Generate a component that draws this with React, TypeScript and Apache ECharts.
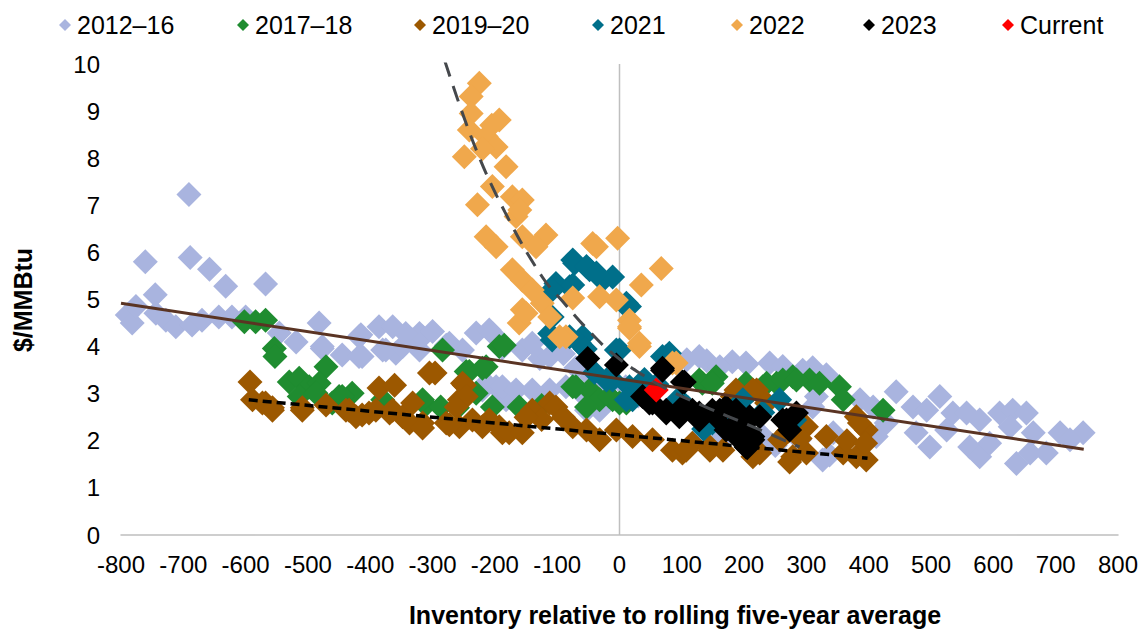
import React, { useEffect, useRef } from "react";
import * as echarts from "echarts";

const FONT = "'Liberation Sans', Arial, Helvetica, sans-serif";

// Series names and colours
const SERIES_NAMES = ["2012–16", "2017–18", "2019–20", "2021", "2022", "2023", "Current"];
const SERIES_COLORS = ["#A9B4DF", "#1F8C30", "#9C5800", "#006F8A", "#F0A84C", "#000000", "#FF0000"];

// Axis ranges
const X_MIN = -800;
const X_MAX = 800;
const X_STEP = 100;
const Y_MIN = 0;
const Y_MAX = 10;
const Y_STEP = 1;

// Observations: [inventory vs five-year average, price $/MMBtu]
const pts2012_16: [number, number][] = [
  [-691, 7.23], [-761, 5.8], [-689, 5.89], [-658, 5.64], [-632, 5.28], [-568, 5.33], [-745, 5.1],
  [-790, 4.67], [-782, 4.5], [-776, 4.85], [-744, 4.71], [-728, 4.56], [-712, 4.42], [-686, 4.46],
  [-670, 4.56], [-643, 4.63], [-622, 4.63], [-600, 4.63], [-546, 4.29], [-519, 4.1], [-482, 4.5],
  [-477, 3.96], [-445, 3.82], [-418, 4.21], [-413, 3.79], [-386, 4.42], [-364, 4.42], [-380, 3.93],
  [-359, 3.86], [-332, 4.14], [-316, 4.21], [-321, 3.93], [-477, 4.0], [-418, 3.79], [-415, 4.25],
  [-375, 3.93], [-348, 4.0], [-321, 4.28], [-300, 4.32], [-278, 4.03], [-252, 3.93], [-230, 4.29],
  [-209, 4.35], [-193, 4.0], [-220, 3.08], [-198, 3.15], [-182, 2.87], [-343, 4.28], [-273, 4.07],
  [-204, 4.28], [-188, 3.97], [-156, 3.93], [-128, 3.75], [-140, 4.07], [-112, 3.79], [-214, 3.22],
  [-188, 3.15], [-166, 3.08], [-140, 3.08], [-112, 3.08], [-86, 3.15], [-32, 2.65], [-53, 2.65],
  [-90, 3.85], [-70, 3.55], [-45, 3.35], [-25, 3.2], [-60, 3.0], [-20, 2.9], [10, 3.15], [30, 2.95],
  [108, 3.72], [140, 3.7], [181, 3.68], [204, 3.62], [241, 3.65], [262, 3.58], [310, 3.55],
  [128, 3.79], [161, 3.57], [203, 3.65], [294, 3.5], [332, 3.4], [386, 2.87], [407, 2.72],
  [444, 3.04], [471, 2.72], [493, 2.65], [514, 2.94], [535, 2.59], [557, 2.59], [578, 2.44],
  [610, 2.59], [631, 2.65], [653, 2.59], [627, 2.3], [664, 2.17], [707, 2.17], [744, 2.17],
  [723, 2.02], [498, 1.87], [562, 1.87], [578, 1.66], [637, 1.52], [659, 1.74], [685, 1.74],
  [594, 1.95], [525, 2.23], [476, 2.17], [428, 2.38], [412, 2.09], [343, 2.17], [326, 1.59],
  [310, 2.72], [316, 2.94], [130, 2.1], [160, 2.0], [230, 2.1], [289, 2.02], [337, 1.7], [250, 1.9],
];

const pts2017_18: [number, number][] = [
  [-602, 4.53], [-584, 4.53], [-568, 4.56], [-554, 3.96], [-553, 3.79], [-530, 3.25], [-514, 3.33],
  [-498, 3.15], [-471, 3.57], [-482, 3.22], [-514, 2.94], [-450, 2.94], [-429, 3.01], [-461, 2.8],
  [-487, 3.01], [-445, 2.94], [-380, 2.87], [-311, 2.76], [-287, 2.72], [-284, 3.93], [-246, 3.47],
  [-214, 3.57], [-204, 2.72], [-193, 4.0], [-230, 3.01], [-241, 3.47], [-220, 3.54], [-185, 4.03],
  [-161, 2.72], [-125, 2.75], [-260, 2.7], [-316, 2.87], [-70, 3.15], [-48, 3.08], [-32, 2.87],
  [-11, 2.87], [-53, 2.72], [11, 2.8], [-75, 3.15], [-16, 2.94], [0, 2.8], [133, 3.22], [155, 3.36],
  [128, 3.29], [149, 3.22], [203, 3.22], [230, 3.15], [252, 3.22], [278, 3.36], [305, 3.29],
  [236, 3.22], [262, 3.29], [284, 3.29], [321, 3.22], [353, 3.15], [359, 2.87], [423, 2.65],
];

const pts2019_20: [number, number][] = [
  [-593, 3.25], [-589, 2.87], [-568, 2.8], [-557, 2.7], [-509, 2.7], [-471, 2.76], [-434, 2.65],
  [-413, 2.55], [-386, 3.12], [-361, 3.18], [-391, 2.65], [-369, 2.59], [-348, 2.51], [-332, 2.8],
  [-316, 2.38], [-305, 3.44], [-573, 2.8], [-557, 2.65], [-509, 2.65], [-439, 2.65], [-423, 2.51],
  [-402, 2.59], [-364, 2.65], [-296, 3.44], [-278, 2.38], [-257, 2.3], [-249, 3.18], [-257, 2.87],
  [-236, 2.44], [-209, 2.44], [-188, 2.17], [-337, 2.38], [-316, 2.27], [-273, 2.34], [-252, 3.22],
  [-246, 2.94], [-262, 2.72], [-220, 2.3], [-193, 2.3], [-177, 2.17], [-156, 2.17], [-140, 2.65],
  [-112, 2.8], [-102, 2.72], [-125, 2.45], [-90, 2.5], [-150, 2.5], [-75, 2.3], [-53, 2.23],
  [-32, 2.02], [-5, 2.23], [21, 2.09], [53, 2.02], [85, 1.8], [117, 1.95], [145, 1.8], [166, 1.8],
  [101, 1.74], [181, 2.94], [220, 3.08], [300, 2.3], [278, 1.66], [300, 1.74], [225, 1.74],
  [145, 1.87], [107, 1.8], [187, 3.08], [214, 3.08], [332, 2.09], [380, 2.51], [396, 2.23],
  [396, 1.59], [380, 1.66], [359, 1.74], [273, 1.55], [214, 1.66], [236, 2.8], [257, 2.02],
  [385, 2.38], [365, 2.0], [395, 1.95], [270, 2.2], [290, 2.05],
];

const pts2021: [number, number][] = [
  [-108, 4.14], [-59, 4.21], [11, 4.85], [-5, 3.93], [-11, 3.29], [16, 3.15], [21, 2.87], [75, 3.79],
  [145, 2.38], [-75, 5.84], [-48, 5.63], [-27, 5.41], [-11, 5.48], [-80, 5.27], [16, 4.85], [0, 3.93],
  [80, 3.86], [27, 3.01], [11, 2.87], [-21, 3.29], [149, 2.38], [-72, 5.77], [-53, 5.7], [-37, 5.56],
  [-102, 5.34], [-75, 5.31], [-108, 5.2], [11, 4.92], [-112, 4.28], [-80, 4.21], [-64, 4.07],
  [69, 3.79], [-108, 4.63], [139, 2.38], [198, 2.87], [257, 2.87], [-55, 3.95], [-40, 3.45],
  [40, 3.3], [60, 3.2], [95, 2.9], [110, 2.7], [170, 2.6], [230, 2.6], [135, 2.25], [281, 2.44],
];

const pts2022: [number, number][] = [
  [-225, 9.59], [-238, 9.31], [-238, 8.95], [-193, 8.81], [-241, 8.6], [-214, 8.46], [-198, 8.24],
  [-249, 8.03], [-182, 7.82], [-204, 7.4], [-172, 7.18], [-156, 7.11], [-228, 7.01], [-166, 6.76],
  [-214, 6.33], [-198, 6.12], [-156, 6.33], [-118, 6.37], [-134, 6.12], [-43, 6.19], [-3, 6.3],
  [-37, 6.12], [-172, 5.63], [-156, 5.41], [-140, 5.2], [67, 5.66], [-124, 4.92], [-156, 4.78],
  [-161, 4.5], [-150, 4.71], [-75, 5.03], [-32, 5.06], [-5, 4.99], [35, 5.31], [-112, 4.63],
  [16, 4.56], [16, 4.39], [16, 4.42], [-86, 4.21], [-96, 4.21], [32, 4.0], [32, 4.07], [91, 3.65],
  [85, 3.65], [-205, 8.7], [-220, 8.2], [-160, 6.9],
];

const pts2023: [number, number][] = [
  [-51, 3.75], [-5, 3.61], [69, 3.54], [101, 3.25], [53, 2.8], [75, 2.65], [96, 2.51], [117, 2.65],
  [128, 2.44], [161, 2.65], [171, 2.23], [69, 3.5], [104, 3.25], [48, 2.8], [37, 2.94], [75, 2.59],
  [101, 2.72], [128, 2.51], [149, 2.65], [171, 2.72], [181, 2.3], [203, 2.38], [193, 2.02],
  [214, 2.09], [225, 2.51], [262, 2.44], [284, 2.59], [273, 2.23], [128, 2.59], [155, 2.51],
  [187, 2.65], [209, 2.51], [198, 2.09], [214, 2.02], [203, 1.87], [268, 2.44], [205, 1.85],
];

const ptsCurrent: [number, number][] = [[59, 3.08]];

// Fitted trend lines
const trend2012_16: [number, number][] = [[-800, 4.92], [745, 1.82]];
const trend2019_20: [number, number][] = [[-595, 2.87], [398, 1.63]];
const trend2022: [number, number][] = [
  [-280, 10.05], [-233, 8.28], [-184, 6.86], [-125, 5.5], [-86, 4.88], [-48, 4.32], [-11, 3.85],
  [37, 3.4], [80, 3.07], [145, 2.68], [203, 2.36], [289, 1.87],
];

// Vertical reference line at zero
const zeroLine: [number, number][] = [[0, Y_MIN], [0, Y_MAX]];

const SERIES_POINTS = [pts2012_16, pts2017_18, pts2019_20, pts2021, pts2022, pts2023, ptsCurrent];

// Legend icon centres (px)
const LEGEND_X = [65, 243, 420, 598, 737, 869, 1008];

export default function App() {
  const ref = useRef<HTMLDivElement>(null);

  useEffect(() => {
    if (!ref.current) return;
    const chart = echarts.init(ref.current, undefined, { renderer: "svg" });

    const scatterSeries = SERIES_NAMES.map((name, i) => ({
      name,
      type: "scatter",
      symbol: "diamond",
      symbolSize: 25,
      data: SERIES_POINTS[i],
      itemStyle: { color: SERIES_COLORS[i], opacity: 1 },
      z: 2,
      silent: true,
    }));

    const option = {
      animation: false,
      backgroundColor: "#ffffff",
      textStyle: { fontFamily: FONT },
      grid: { left: 121, right: 24, top: 64, bottom: 95, containLabel: false },
      legend: SERIES_NAMES.map((name, i) => ({
        data: [{ name, icon: "diamond" }],
        left: LEGEND_X[i] - 6,
        top: 11,
        padding: 0,
        itemWidth: 12,
        itemHeight: 12,
        selectedMode: false,
        textStyle: { fontFamily: FONT, fontSize: 25, color: "#000000", lineHeight: 28, padding: [0, 0, 0, 1] },
      })),
      xAxis: {
        type: "value",
        min: X_MIN,
        max: X_MAX,
        interval: X_STEP,
        axisLine: { show: true, onZero: false, lineStyle: { color: "#BFBFBF", width: 1.5 } },
        axisTick: { show: false },
        splitLine: { show: false },
        axisLabel: { fontFamily: FONT, fontSize: 24, color: "#000000", margin: 17 },
      },
      yAxis: {
        type: "value",
        min: Y_MIN,
        max: Y_MAX,
        interval: Y_STEP,
        axisLine: { show: false },
        axisTick: { show: false },
        splitLine: { show: false },
        axisLabel: { fontFamily: FONT, fontSize: 24, color: "#000000", margin: 21 },
      },
      graphic: [
        {
          type: "text",
          x: 23,
          y: 300,
          rotation: Math.PI / 2,
          style: {
            text: "$/MMBtu",
            font: `bold 25px ${FONT}`,
            fill: "#000000",
            align: "center",
            verticalAlign: "middle",
            textAlign: "center",
            textVerticalAlign: "middle",
          },
        },
        {
          type: "text",
          x: 675,
          y: 615,
          style: {
            text: "Inventory relative to rolling five-year average",
            font: `bold 25px ${FONT}`,
            fill: "#000000",
            align: "center",
            verticalAlign: "middle",
            textAlign: "center",
            textVerticalAlign: "middle",
          },
        },
      ],
      series: [
        {
          name: "zero",
          type: "line",
          data: zeroLine,
          showSymbol: false,
          symbol: "none",
          silent: true,
          z: 1,
          lineStyle: { color: "#BFBFBF", width: 1.5 },
        },
        ...scatterSeries,
        {
          name: "trend 2012–16",
          type: "line",
          data: trend2012_16,
          symbol: "none",
          silent: true,
          z: 4,
          lineStyle: { color: "#5A3423", width: 3 },
        },
        {
          name: "trend 2019–20",
          type: "line",
          data: trend2019_20,
          symbol: "none",
          silent: true,
          z: 4,
          lineStyle: { color: "#000000", width: 3.5, type: [9, 5] },
        },
        {
          name: "trend 2022",
          type: "line",
          data: trend2022,
          symbol: "none",
          smooth: 0.4,
          silent: true,
          z: 4,
          lineStyle: { color: "#45484C", width: 3, type: [16, 10] },
        },
      ],
    };

    chart.setOption(option as any);
    return () => chart.dispose();
  }, []);

  return (
    <div
      ref={ref}
      style={{ position: "absolute", left: 0, top: 0, width: 1142, height: 630, background: "#fff" }}
    />
  );
}
